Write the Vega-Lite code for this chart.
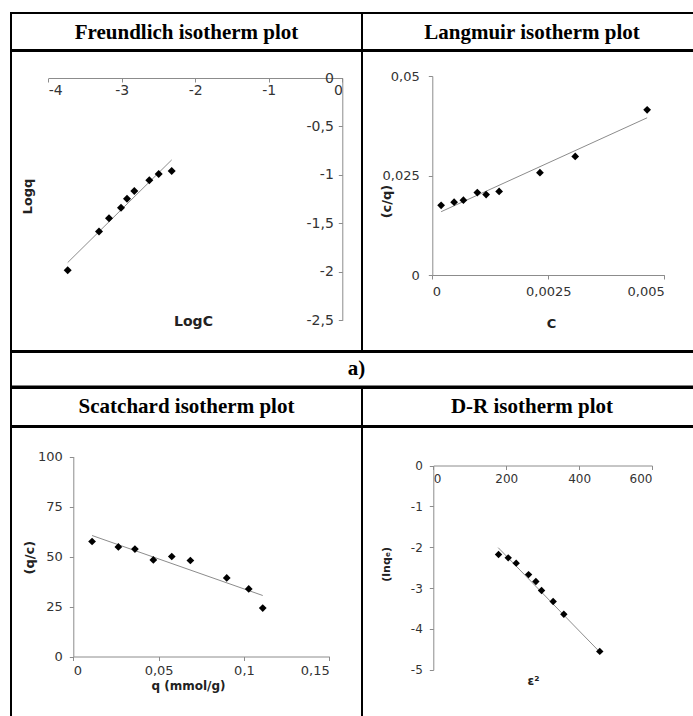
{
  "$schema": "https://vega.github.io/schema/vega-lite/v6.json",
  "padding": {"left": 10, "top": 12, "right": 0, "bottom": 0},
  "background": "white",
  "spacing": -2,
  "config": {
    "view": {"stroke": "black", "strokeWidth": 2},
    "concat": {"spacing": 0},
    "axis": {
      "grid": false,
      "domainColor": "#8c8c8c",
      "tickColor": "#8c8c8c",
      "tickSize": 4,
      "labelColor": "#333333",
      "labelFont": "DejaVu Sans",
      "titleFont": "DejaVu Sans",
      "titleFontWeight": "bold",
      "titleColor": "#222222",
      "titleBaseline": "middle",
      "labelExpr": "replace(datum.value + '', '.', ',')"
    },
    "text": {"font": "Liberation Serif", "fontWeight": "bold", "fontSize": 21, "color": "black", "baseline": "middle"}
  },
  "datasets": {
    "freundlich": [
      {"logC": -3.736, "logq": -1.983},
      {"logC": -3.31, "logq": -1.585},
      {"logC": -3.174, "logq": -1.447},
      {"logC": -3.011, "logq": -1.34},
      {"logC": -2.929, "logq": -1.247},
      {"logC": -2.83, "logq": -1.165},
      {"logC": -2.626, "logq": -1.055},
      {"logC": -2.498, "logq": -0.99},
      {"logC": -2.321, "logq": -0.959}
    ],
    "freundlich_fit": [
      {"logC": -3.736, "logq": -1.904},
      {"logC": -2.321, "logq": -0.845}
    ],
    "langmuir": [
      {"c": 0.00019, "cq": 0.0175},
      {"c": 0.00047, "cq": 0.0183},
      {"c": 0.00067, "cq": 0.0188},
      {"c": 0.00097, "cq": 0.0207},
      {"c": 0.00116, "cq": 0.0202},
      {"c": 0.00144, "cq": 0.021},
      {"c": 0.00232, "cq": 0.0257},
      {"c": 0.00308, "cq": 0.0298},
      {"c": 0.00463, "cq": 0.0415}
    ],
    "langmuir_fit": [
      {"c": 0.00019, "cq": 0.0159},
      {"c": 0.00463, "cq": 0.0395}
    ],
    "scatchard": [
      {"q": 0.011, "qc": 57.5},
      {"q": 0.0264, "qc": 54.8},
      {"q": 0.0361, "qc": 53.7},
      {"q": 0.0469, "qc": 48.3},
      {"q": 0.0577, "qc": 50},
      {"q": 0.0686, "qc": 48},
      {"q": 0.0899, "qc": 39.3},
      {"q": 0.1028, "qc": 33.8},
      {"q": 0.111, "qc": 24.2}
    ],
    "scatchard_fit": [
      {"q": 0.011, "qc": 60.5},
      {"q": 0.111, "qc": 30.5}
    ],
    "dr": [
      {"eps2": 179, "lnq": -2.18},
      {"eps2": 205.5, "lnq": -2.26},
      {"eps2": 227.4, "lnq": -2.39},
      {"eps2": 261.4, "lnq": -2.67},
      {"eps2": 281.4, "lnq": -2.84},
      {"eps2": 297, "lnq": -3.06},
      {"eps2": 328.8, "lnq": -3.33},
      {"eps2": 358.1, "lnq": -3.64},
      {"eps2": 456.7, "lnq": -4.55}
    ],
    "dr_fit": [
      {"eps2": 178, "lnq": -2.01},
      {"eps2": 459.5, "lnq": -4.59}
    ]
  },
  "vconcat": [
    {
      "spacing": 0,
      "bounds": "flush",
      "hconcat": [
        {
          "width": 351, "height": 37,
          "data": {"values": [{"t": "Freundlich isotherm plot"}]},
          "mark": {"type": "text", "dy": 1},
          "encoding": {
            "text": {"field": "t"},
            "x": {"datum": 0.5, "type": "quantitative", "scale": {"domain": [0, 1]}, "axis": null},
            "y": {"datum": 0.5, "type": "quantitative", "scale": {"domain": [0, 1]}, "axis": null}
          }
        },
        {
          "width": 340, "height": 37,
          "data": {"values": [{"t": "Langmuir isotherm plot"}]},
          "mark": {"type": "text", "dy": 1},
          "encoding": {
            "text": {"field": "t"},
            "x": {"datum": 0.5, "type": "quantitative", "scale": {"domain": [0, 1]}, "axis": null},
            "y": {"datum": 0.5, "type": "quantitative", "scale": {"domain": [0, 1]}, "axis": null}
          }
        }
      ]
    },
    {
      "spacing": 0,
      "bounds": "flush",
      "hconcat": [
        {
          "width": 351, "height": 300,
          "layer": [
            {
              "data": {"name": "freundlich_fit"},
              "mark": {"type": "line", "color": "#8c8c8c", "strokeWidth": 1},
              "encoding": {
                "x": {"field": "logC", "type": "quantitative",
                  "scale": {"domain": [-4, 0], "range": [37.3, 331.3], "nice": false, "zero": false},
                  "axis": {"orient": "bottom", "offset": -273, "values": [-4, -3, -2, -1, 0], "title": "LogC",
                    "titleX": 182, "titleY": 243, "labelFontSize": 14, "titleFontSize": 14, "labelPadding": 1}},
                "y": {"field": "logq", "type": "quantitative",
                  "scale": {"domain": [-2.5, 0], "range": [269.3, 27], "nice": false, "zero": false},
                  "axis": {"orient": "left", "offset": -331.3, "values": [-2.5, -2, -1.5, -1, -0.5, 0], "title": "Logq",
                    "titleX": -314.8, "titleY": 145, "labelFontSize": 14, "titleFontSize": 13, "labelPadding": 5}}
              }
            },
            {
              "data": {"name": "freundlich"},
              "mark": {"type": "point", "shape": "diamond", "filled": true, "color": "black", "opacity": 1, "size": 64},
              "encoding": {
                "x": {"field": "logC", "type": "quantitative"},
                "y": {"field": "logq", "type": "quantitative"}
              }
            }
          ]
        },
        {
          "width": 340, "height": 300,
          "layer": [
            {
              "data": {"name": "langmuir_fit"},
              "mark": {"type": "line", "color": "#8c8c8c", "strokeWidth": 1},
              "encoding": {
                "x": {"field": "c", "type": "quantitative",
                  "scale": {"domain": [0, 0.005], "range": [70.3, 302.3], "nice": false, "zero": false},
                  "axis": {"orient": "bottom", "offset": -76, "values": [0, 0.0025, 0.005], "title": "C",
                    "titleX": 189, "titleY": 48, "labelFontSize": 13, "titleFontSize": 13, "labelPadding": 6}},
                "y": {"field": "cq", "type": "quantitative",
                  "scale": {"domain": [0, 0.05], "range": [224, 25], "nice": false, "zero": false},
                  "axis": {"orient": "left", "offset": -70.3, "values": [0, 0.025, 0.05], "title": "(c/q)",
                    "titleX": -45.6, "titleY": 150, "labelFontSize": 13, "titleFontSize": 13, "labelPadding": 9}}
              }
            },
            {
              "data": {"name": "langmuir"},
              "mark": {"type": "point", "shape": "diamond", "filled": true, "color": "black", "opacity": 1, "size": 60},
              "encoding": {
                "x": {"field": "c", "type": "quantitative"},
                "y": {"field": "cq", "type": "quantitative"}
              }
            }
          ]
        }
      ]
    },
    {
      "width": 691, "height": 34.5,
      "data": {"values": [{"t": "a)"}]},
      "mark": {"type": "text", "dy": 0},
      "encoding": {
        "text": {"field": "t"},
        "x": {"datum": 0.5, "type": "quantitative", "scale": {"domain": [0, 1]}, "axis": null},
        "y": {"datum": 0.5, "type": "quantitative", "scale": {"domain": [0, 1]}, "axis": null}
      }
    },
    {
      "spacing": 0,
      "bounds": "flush",
      "hconcat": [
        {
          "width": 351, "height": 38,
          "data": {"values": [{"t": "Scatchard isotherm plot"}]},
          "mark": {"type": "text", "dy": 0},
          "encoding": {
            "text": {"field": "t"},
            "x": {"datum": 0.5, "type": "quantitative", "scale": {"domain": [0, 1]}, "axis": null},
            "y": {"datum": 0.5, "type": "quantitative", "scale": {"domain": [0, 1]}, "axis": null}
          }
        },
        {
          "width": 340, "height": 38,
          "data": {"values": [{"t": "D-R isotherm plot"}]},
          "mark": {"type": "text", "dy": 0},
          "encoding": {
            "text": {"field": "t"},
            "x": {"datum": 0.5, "type": "quantitative", "scale": {"domain": [0, 1]}, "axis": null},
            "y": {"datum": 0.5, "type": "quantitative", "scale": {"domain": [0, 1]}, "axis": null}
          }
        }
      ]
    },
    {
      "spacing": 0,
      "bounds": "flush",
      "hconcat": [
        {
          "width": 351, "height": 300,
          "layer": [
            {
              "data": {"name": "scatchard_fit"},
              "mark": {"type": "line", "color": "#8c8c8c", "strokeWidth": 1},
              "encoding": {
                "x": {"field": "q", "type": "quantitative",
                  "scale": {"domain": [0, 0.15], "range": [62.3, 318.3], "nice": false, "zero": false},
                  "axis": {"orient": "bottom", "offset": -70.5, "values": [0, 0.05, 0.1, 0.15], "title": "q (mmol/g)",
                    "titleX": 177, "titleY": 29, "labelFontSize": 13, "titleFontSize": 12, "labelPadding": 4}},
                "y": {"field": "qc", "type": "quantitative",
                  "scale": {"domain": [0, 100], "range": [229.5, 29.5], "nice": false, "zero": false},
                  "axis": {"orient": "left", "offset": -62.3, "values": [0, 25, 50, 75, 100], "title": "(q/c)",
                    "titleX": -44.3, "titleY": 130.2, "labelFontSize": 13, "titleFontSize": 13, "labelPadding": 7}}
              }
            },
            {
              "data": {"name": "scatchard"},
              "mark": {"type": "point", "shape": "diamond", "filled": true, "color": "black", "opacity": 1, "size": 60},
              "encoding": {
                "x": {"field": "q", "type": "quantitative"},
                "y": {"field": "qc", "type": "quantitative"}
              }
            }
          ]
        },
        {
          "width": 340, "height": 300,
          "layer": [
            {
              "data": {"name": "dr_fit"},
              "mark": {"type": "line", "color": "#8c8c8c", "strokeWidth": 1},
              "encoding": {
                "x": {"field": "eps2", "type": "quantitative",
                  "scale": {"domain": [0, 600], "range": [71.3, 290], "nice": false, "zero": false},
                  "axis": {"orient": "bottom", "offset": -261.5, "values": [0, 200, 400, 600], "title": "ε²",
                    "titleX": 171, "titleY": 215, "labelFontSize": 12, "titleFontSize": 12, "labelPadding": 4}},
                "y": {"field": "lnq", "type": "quantitative",
                  "scale": {"domain": [-5, 0], "range": [242.8, 38.5], "nice": false, "zero": false},
                  "axis": {"orient": "left", "offset": -71.3, "values": [-5, -4, -3, -2, -1, 0], "title": "(lnqₑ)",
                    "titleX": -46.6, "titleY": 136.8, "labelFontSize": 12, "titleFontSize": 11, "labelPadding": 7}}
              }
            },
            {
              "data": {"name": "dr"},
              "mark": {"type": "point", "shape": "diamond", "filled": true, "color": "black", "opacity": 1, "size": 55},
              "encoding": {
                "x": {"field": "eps2", "type": "quantitative"},
                "y": {"field": "lnq", "type": "quantitative"}
              }
            }
          ]
        }
      ]
    }
  ]
}
